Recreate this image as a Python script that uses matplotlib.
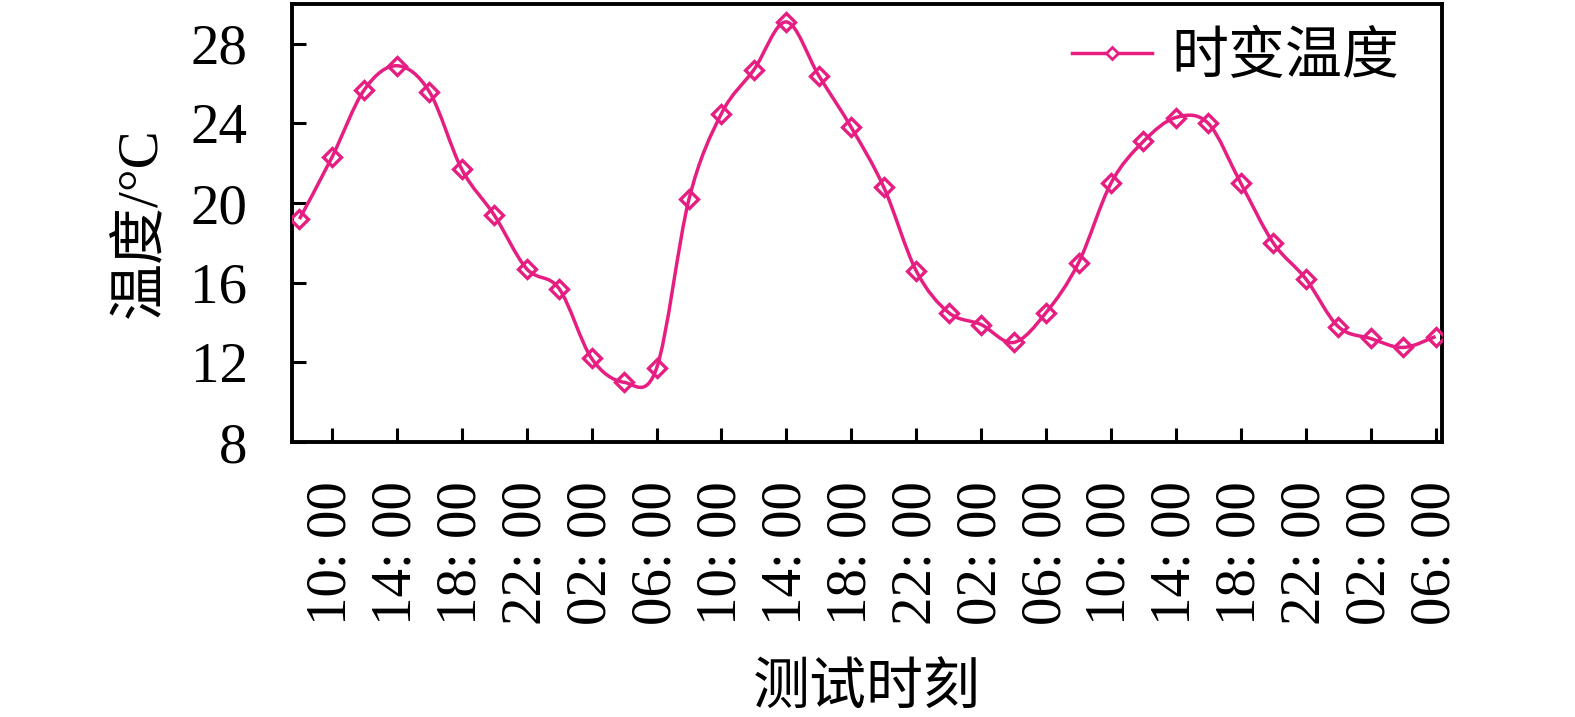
import numpy as np
import matplotlib
matplotlib.use('Agg')
import matplotlib.pyplot as plt
from matplotlib.path import Path
from matplotlib.patches import PathPatch
from matplotlib.lines import Line2D

# temperature read every 2 h, starting 08:00
temps = [19.2, 22.3, 25.7, 26.9, 25.6, 21.7, 19.4, 16.7, 15.7, 12.2, 11.0, 11.7,
         20.2, 24.5, 26.7, 29.1, 26.4, 23.8, 20.8, 16.6, 14.5, 13.9, 13.0, 14.5,
         17.0, 21.0, 23.1, 24.3, 24.0, 21.0, 18.0, 16.2, 13.8, 13.2, 12.75, 13.3]
tick_labels = ['10: 00', '14: 00', '18: 00', '22: 00', '02: 00', '06: 00',
               '10: 00', '14: 00', '18: 00', '22: 00', '02: 00', '06: 00',
               '10: 00', '14: 00', '18: 00', '22: 00', '02: 00', '06: 00']
series_name = '时变温度'
xlabel = '测试时刻'
ylabel = '温度/°C'

color = '#e61e82'
lw = 2.5
plt.rcParams['font.family'] = ['Liberation Serif', 'Noto Sans CJK SC']
plt.rcParams['font.size'] = 41
plt.rcParams['axes.linewidth'] = 2.8


def smooth_path(x, y):
    # catmull-rom as cubic bezier segments
    pts = np.column_stack([x, y])
    verts = [pts[0]]
    codes = [Path.MOVETO]
    n = len(pts)
    for i in range(n - 1):
        p0 = pts[max(i - 1, 0)]
        p1 = pts[i]
        p2 = pts[i + 1]
        p3 = pts[min(i + 2, n - 1)]
        verts += [p1 + (p2 - p0) / 6, p2 - (p3 - p1) / 6, p2]
        codes += [Path.CURVE4] * 3
    return Path(verts, codes)


fig = plt.figure(figsize=(15.75, 7.17), dpi=100)
ax = fig.add_axes([0.1854, 0.3835, 0.7302, 0.6109])

x = np.arange(len(temps))
y = np.array(temps)
ax.add_patch(PathPatch(smooth_path(x, y), fc='none', ec=color,
                       lw=lw, transform=ax.transData, zorder=3))
ax.plot(x, y, ls='none', marker='D', ms=9.0, mfc='none', mec=color,
        mew=2.4, zorder=4)

ax.set_xlim(-0.23, 35.2)
ax.set_ylim(8, 30)
ax.set_yticks([8, 12, 16, 20, 24, 28])
ax.set_xticks(x[1::2])
ax.set_xticklabels(tick_labels, rotation=90)
ax.tick_params(direction='in', length=10, width=2.2)
ax.tick_params(axis='x', pad=28)
ax.tick_params(axis='y', pad=32)

ax.set_ylabel(ylabel, labelpad=16)
ax.set_xlabel(xlabel, labelpad=28)

handle = Line2D([], [], color=color, lw=lw, marker='D', ms=6.5, mfc='white',
                mec=color, mew=2.0)
ax.legend([handle], [series_name], loc='upper right', frameon=False,
          bbox_to_anchor=(0.978, 0.975),
          handlelength=1.4, handletextpad=0.35, borderaxespad=0.1,
          borderpad=0.2)

fig.savefig('out.png', dpi=100)
